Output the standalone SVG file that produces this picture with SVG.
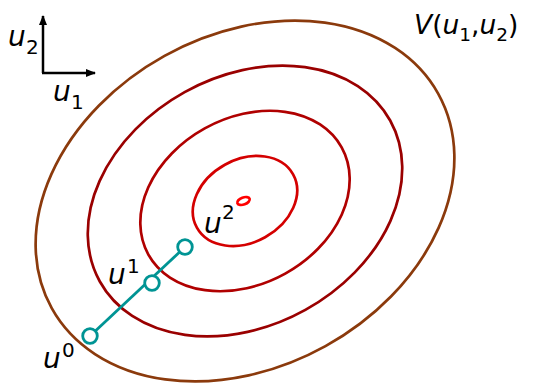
<svg xmlns="http://www.w3.org/2000/svg" width="537" height="385" viewBox="0 0 537 385">
<defs>
<style>
.lvl{fill:none;stroke-width:2.7}
.t{font-family:"DejaVu Sans",sans-serif;fill:#000;font-size:28px}
.it{font-style:oblique}
.sm{font-size:20px}
.v{font-size:26.5px}
.vs{font-size:18.5px}
.pt{fill:#fff;stroke:#009494;stroke-width:2.8}
</style>
<marker id="ah" viewBox="0 0 10 8" refX="9" refY="4" markerWidth="10" markerHeight="8" markerUnits="userSpaceOnUse" orient="auto">
<path d="M0,0 L10,4 L0,8 Z" fill="#000"/>
</marker>
</defs>
<g id="levels" transform="rotate(-29 245 201)">
<ellipse id="level1" class="lvl" cx="245" cy="201" rx="221" ry="166" stroke="#8B3A0C"/>
<ellipse id="level2" class="lvl" cx="245" cy="201" rx="166" ry="124.5" stroke="#9A0000"/>
<ellipse id="level3" class="lvl" cx="245" cy="201" rx="110.5" ry="83" stroke="#B00000"/>
<ellipse id="level4" class="lvl" cx="245" cy="201" rx="55" ry="41.5" stroke="#D40000"/>
</g>
<ellipse id="level5" class="lvl" cx="243.5" cy="201" rx="6.5" ry="3.5" transform="rotate(-20 243.5 201)" stroke="#FF0000"/>
<g id="axes" stroke="#000" stroke-width="2.5" fill="none">
<line x1="43" y1="73" x2="43" y2="16" marker-end="url(#ah)"/>
<line x1="42" y1="73" x2="95" y2="73" marker-end="url(#ah)"/>
</g>
<g id="connectors">
<line x1="90" y1="336" x2="185" y2="247" stroke="#009494" stroke-width="2.8"/>
</g>
<g id="u0"><circle class="pt" cx="90" cy="336" r="7.3"/></g>
<g id="u1"><circle class="pt" cx="152" cy="283" r="7.3"/></g>
<g id="u2"><circle class="pt" cx="185" cy="247" r="7.3"/></g>
<g id="labels">
<text class="t" x="8" y="46"><tspan class="it">u</tspan><tspan class="sm" x="26" y="54">2</tspan></text>
<text class="t" x="53" y="101"><tspan class="it">u</tspan><tspan class="sm" x="71" y="109">1</tspan></text>
<text class="t v" x="414" y="34"><tspan class="it">V</tspan><tspan>(</tspan><tspan class="it">u</tspan><tspan class="vs" dy="7">1</tspan><tspan dy="-7">,</tspan><tspan class="it">u</tspan><tspan class="vs" dy="7">2</tspan><tspan dy="-7">)</tspan></text>
<text class="t" x="43" y="368"><tspan class="it">u</tspan><tspan class="sm" x="62" y="357">0</tspan></text>
<text class="t" x="108" y="284"><tspan class="it">u</tspan><tspan class="sm" x="127" y="273">1</tspan></text>
<text class="t" x="204" y="233"><tspan class="it">u</tspan><tspan class="sm" x="222" y="219">2</tspan></text>
</g>
</svg>
